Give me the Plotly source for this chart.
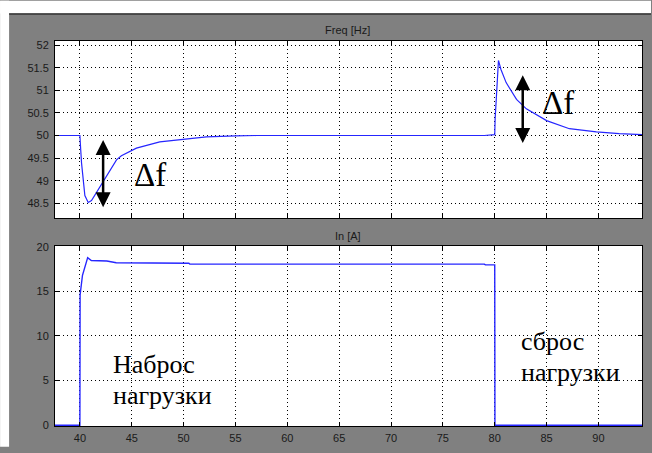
import plotly.graph_objects as go

# ---- data ----
freq_t = [37.6, 40.0, 40.07, 40.16, 40.48, 40.8, 41.12, 42.24, 43.53, 44.0, 45.45, 47.7,
          50.26, 52.2, 55.0, 57.0, 79.0, 79.9, 80.0, 80.04, 80.36, 80.6, 81.1, 82.1,
          83.05, 85.0, 87.2, 89.8, 92.0, 94.2]
freq_hz = [50.0, 50.0, 49.72, 49.39, 48.67, 48.52, 48.56, 48.99, 49.46, 49.55, 49.72, 49.86,
           49.93, 49.97, 49.99, 50.0, 50.0, 50.02, 50.02, 50.37, 51.66, 51.46, 51.17, 50.8,
           50.59, 50.33, 50.15, 50.08, 50.04, 50.02]

cur_t = [37.6, 40.0, 40.02, 40.25, 40.75, 41.1, 42.6, 43.5, 50.5, 50.6, 79.0, 79.1,
         80.0, 80.02, 94.2]
cur_a = [0.0, 0.0, 14.6, 16.8, 18.78, 18.45, 18.4, 18.2, 18.15, 18.05, 18.05, 17.97,
         17.97, 0.0, 0.0]

x_ticks = [40, 45, 50, 55, 60, 65, 70, 75, 80, 85, 90]
freq_ticks = [48.5, 49, 49.5, 50, 50.5, 51, 51.5, 52]
cur_ticks = [0, 5, 10, 15, 20]

label_on = ["Наброс", "нагрузки"]
label_off = ["сброс", "нагрузки"]

# ---- geometry ----
W, H = 652, 453
L, R, T, B = 55, 643, 41, 432
PW, PH = R - L, B - T

def px(xp):
    return (xp - L) / PW

def py(yp):
    return (B - yp) / PH

LINE = "#2626ff"
GREY = "#808080"
tickfont = dict(family="Liberation Sans", size=11, color="#1a1a1a")

fig = go.Figure()
fig.add_trace(go.Scatter(x=freq_t, y=freq_hz, mode="lines", xaxis="x2", yaxis="y2",
                         line=dict(color=LINE, width=1.2), showlegend=False))
fig.add_trace(go.Scatter(x=cur_t, y=cur_a, mode="lines", xaxis="x", yaxis="y",
                         line=dict(color=LINE, width=1.4), showlegend=False))

axis_common = dict(showline=True, linecolor="black", linewidth=1, mirror="allticks",
                   ticks="inside", ticklen=4, tickcolor="black", tickwidth=1,
                   showgrid=True, gridcolor="black", gridwidth=1, griddash="1px,3px",
                   zeroline=False, tickfont=tickfont)

xr = [37.6, 94.2]
fig.update_layout(
    width=W, height=H,
    margin=dict(l=L, r=W - R, t=T, b=H - B),
    paper_bgcolor=GREY, plot_bgcolor="white",
    xaxis=dict(domain=[0, 1], anchor="y", range=xr, tickvals=x_ticks, ticklabelstandoff=2,
               **axis_common),
    yaxis=dict(domain=[0, py(249)], anchor="x", range=[-0.08, 20.1], tickvals=cur_ticks,
               ticklabelstandoff=3, **axis_common),
    xaxis2=dict(domain=[0, 1], anchor="y2", range=xr, tickvals=x_ticks,
                showticklabels=False, **axis_common),
    yaxis2=dict(domain=[py(221), 1], anchor="x2", range=[48.17, 52.09], tickvals=freq_ticks,
                ticklabelstandoff=3, **axis_common),
)

fig.add_shape(type="rect", xref="paper", yref="paper", x0=px(0), x1=px(W), y0=py(13), y1=py(0),
              fillcolor="white", line_width=0, layer="below")
fig.add_shape(type="rect", xref="paper", yref="paper", x0=px(0), x1=px(9), y0=py(H), y1=py(0),
              fillcolor="white", line_width=0, layer="below")
fig.add_shape(type="line", xref="paper", yref="paper", x0=px(9), x1=px(W), y0=py(13.5), y1=py(13.5),
              line=dict(color="#333333", width=1.5))

titlefont = dict(family="Liberation Sans", size=11, color="#1a1a1a")
fig.add_annotation(text="Freq [Hz]", xref="paper", yref="paper", x=px(348), y=py(30),
                   showarrow=False, font=titlefont, xanchor="center", yanchor="middle")
fig.add_annotation(text="In [A]", xref="paper", yref="paper", x=px(348), y=py(239),
                   showarrow=False, font=titlefont, xanchor="center", yanchor="middle")

for (xa, y_top, y_bot) in [(42.24, 49.90, 48.38), (82.7, 51.33, 49.80)]:
    fig.add_annotation(x=xa, y=y_top, ax=xa, ay=y_bot, xref="x2", yref="y2",
                       axref="x2", ayref="y2", text="", showarrow=True,
                       arrowhead=2, startarrowhead=2, arrowside="end+start",
                       arrowsize=1.2, startarrowsize=1.2, arrowwidth=2.5, arrowcolor="black")

serif = "Liberation Serif, Times New Roman, DejaVu Serif, serif"
fig.add_annotation(text="Δf", x=46.8, y=49.13, xref="x2", yref="y2", showarrow=False,
                   font=dict(family=serif, size=33, color="black"), xanchor="center", yanchor="middle")
fig.add_annotation(text="Δf", x=86.1, y=50.72, xref="x2", yref="y2", showarrow=False,
                   font=dict(family=serif, size=33, color="black"), xanchor="center", yanchor="middle")

for txt, yv in zip(label_on, [6.76, 3.34]):
    fig.add_annotation(text=txt, x=42.98, y=yv, xref="x", yref="y",
                       showarrow=False, xanchor="left", yanchor="middle",
                       font=dict(family=serif, size=26, color="black"))
for txt, yv in zip(label_off, [9.40, 5.88]):
    fig.add_annotation(text=txt, x=82.3, y=yv, xref="x", yref="y",
                       showarrow=False, xanchor="left", yanchor="middle",
                       font=dict(family=serif, size=26, color="black"))

fig.write_html("out.html", config={"displayModeBar": False},
               post_script="document.body.style.margin='0';document.body.style.overflow='hidden';")
